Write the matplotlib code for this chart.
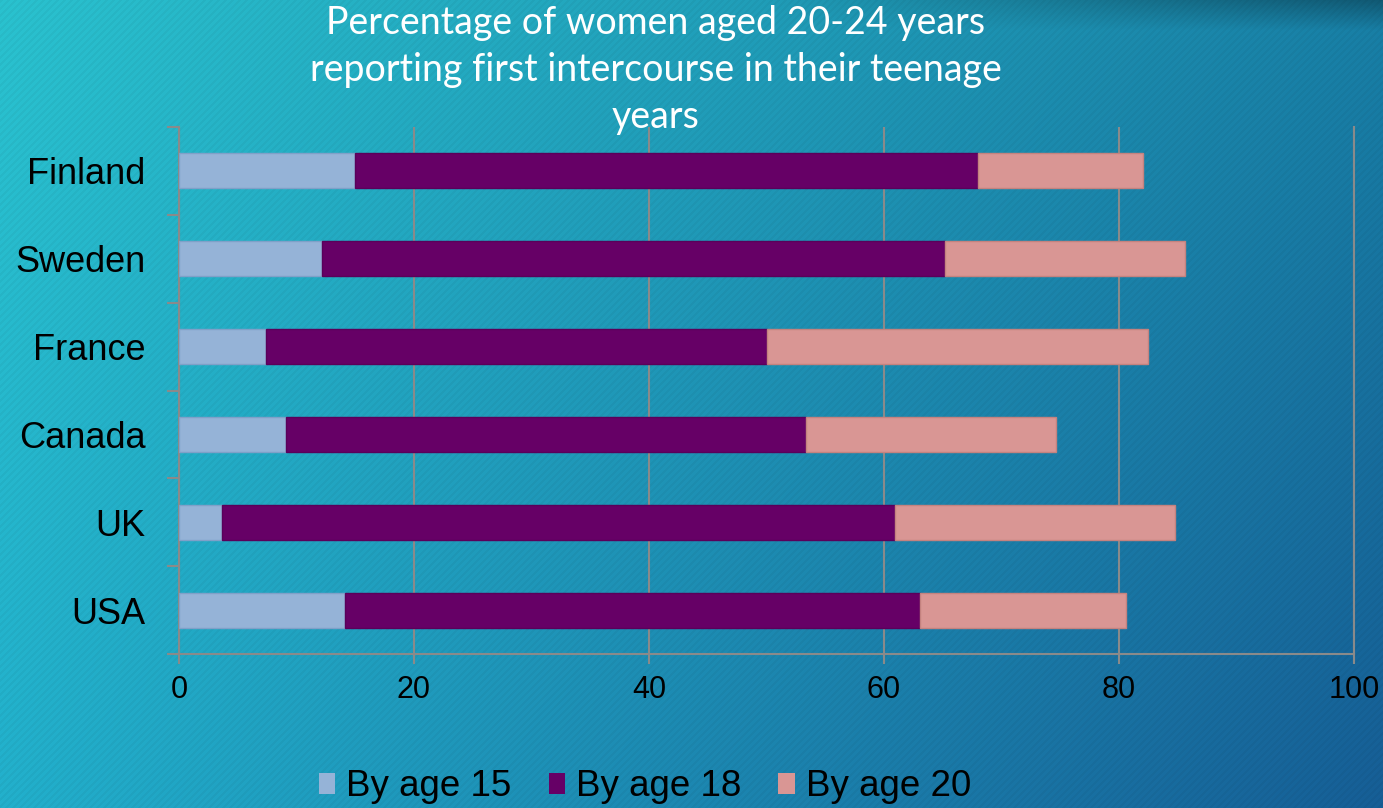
import numpy as np
import matplotlib
matplotlib.use("Agg")
import matplotlib.pyplot as plt
from matplotlib.patches import Patch

# data (cumulative %)
countries = ["USA", "UK", "Canada", "France", "Sweden", "Finland"]
by_15 = [14.1, 3.7, 9.1, 7.4, 12.2, 15.0]
by_18 = [63.1, 60.9, 53.4, 50.0, 65.2, 68.0]
by_20 = [80.6, 84.8, 74.6, 82.5, 85.6, 82.0]
series_names = ["By age 15", "By age 18", "By age 20"]
colors = ["#95b3d7", "#660066", "#d99694"]
edges = ["#7fa0c8", "#5a005a", "#c4827f"]

W, H = 1383, 808
fig = plt.figure(figsize=(W / 100, H / 100), dpi=100)

# background: teal -> dark blue gradient with faint diagonal stripes
yy, xx = np.mgrid[0:H, 0:W]
u = xx / W
v = yy / H
tl = np.array([42, 194, 207]) / 255
tr = np.array([24, 128, 166]) / 255
bl = np.array([34, 176, 204]) / 255
br = np.array([22, 94, 150]) / 255
img = (tl * ((1 - u) * (1 - v))[..., None] + tr * (u * (1 - v))[..., None]
       + bl * ((1 - u) * v)[..., None] + br * (u * v)[..., None])
# darker band along the top right
band = np.clip(1 - yy / 30, 0, 1) * np.clip((u - 0.55) / 0.45, 0, 1)
img = img * (1 - 0.3 * band)[..., None]
stripes = ((xx + yy) % 7 < 3).astype(float)
img = img * (1 - 0.035 * stripes)[..., None]
bg = fig.add_axes([0, 0, 1, 1])
bg.imshow(np.clip(img, 0, 1), aspect="auto", extent=[0, 1, 0, 1])
bg.axis("off")

ax = fig.add_axes([179 / W, 1 - 654 / H, (1354 - 179) / W, (654 - 127) / H])
ax.patch.set_alpha(0)

y = np.arange(len(countries))
h = 0.4
seg15 = np.array(by_15)
seg18 = np.array(by_18) - np.array(by_15)
seg20 = np.array(by_20) - np.array(by_18)
ax.barh(y, seg15, height=h, color=colors[0], edgecolor=edges[0], linewidth=1, zorder=3)
ax.barh(y, seg18, left=by_15, height=h, color=colors[1], edgecolor=edges[1], linewidth=1, zorder=3)
ax.barh(y, seg20, left=by_18, height=h, color=colors[2], edgecolor=edges[2], linewidth=1, zorder=3)

ax.set_xlim(0, 100)
ax.set_ylim(-0.5, len(countries) - 0.5)
ax.set_xticks([0, 20, 40, 60, 80, 100])
ax.xaxis.grid(True, color="#8a8a8a", linewidth=1.5, zorder=1)
ax.set_yticks(y)
ax.set_yticklabels(countries, fontsize=26, family="Liberation Sans", color="black")
ax.set_yticks(np.arange(-0.5, len(countries)), minor=True)
ax.tick_params(axis="y", which="major", length=0, pad=24)
ax.tick_params(axis="y", which="minor", length=9, width=1.5, color="#8a8a8a")
ax.tick_params(axis="x", length=7, width=1.5, color="#8a8a8a", labelsize=22, pad=8)
for lab in ax.get_xticklabels():
    lab.set_family("Liberation Sans")
ax.spines["top"].set_visible(False)
for s in ["left", "bottom", "right"]:
    ax.spines[s].set_color("#8a8a8a")
    ax.spines[s].set_linewidth(1.5)

fig.text(656 / W, 1 - 70 / H,
         "Percentage of women aged 20-24 years\nreporting first intercourse in their teenage\nyears",
         ha="center", va="center", color="white", fontsize=27, family="Lato",
         linespacing=1.38)

handles = [Patch(facecolor=c, edgecolor="none") for c in colors]
fig.legend(handles, series_names, loc="center", bbox_to_anchor=(645 / W, 1 - 787 / H),
           ncol=3, frameon=False, prop={"family": "Liberation Sans", "size": 26.5},
           handlelength=0.45, handleheight=0.5, handletextpad=0.3, columnspacing=1.0)

fig.savefig("out.png", dpi=100)
